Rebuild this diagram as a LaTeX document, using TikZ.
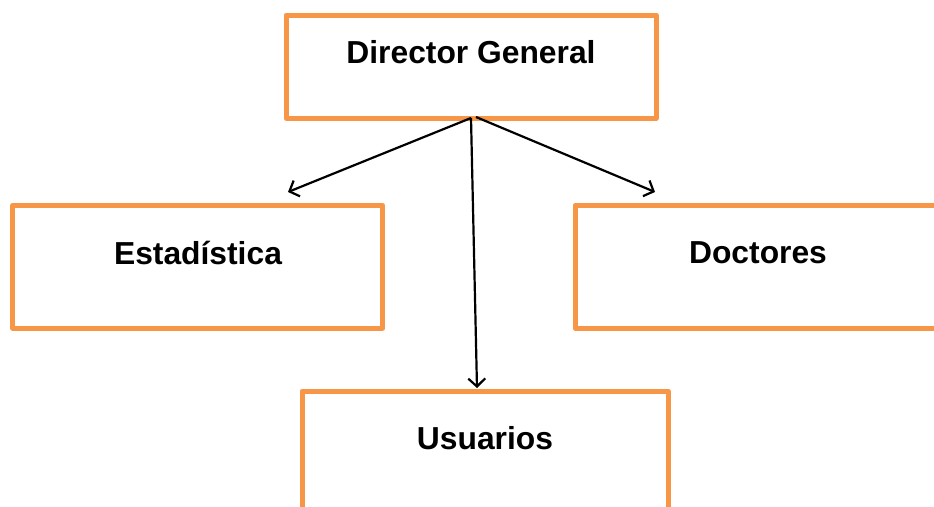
\documentclass[tikz,border=0pt]{standalone}
\usepackage{fontspec}
\setmainfont{Liberation Sans}
\usetikzlibrary{arrows.meta}
\definecolor{boxorange}{HTML}{F79646}
\begin{document}
\begin{tikzpicture}[x=1pt,y=-1pt,
  orgbox/.style={draw=boxorange,line width=5pt,line join=round,fill=white,
    minimum width=370pt,inner sep=0pt,outer sep=0pt},
  lbl/.style={font=\fontsize{31.8}{38}\selectfont\bfseries,inner sep=0pt},
  conn/.style={line width=2.2pt,-{Straight Barb[length=8pt,width=17pt,line width=2.2pt]}}]
\useasboundingbox (0,0) rectangle (934,506);
\clip (0,0) rectangle (934,506);
\node[orgbox,minimum height=103pt] (dir) at (471,66.5) {};
\node[orgbox,minimum height=122.5pt] (est) at (197.75,266.75) {};
\node[orgbox,minimum height=122.5pt] (doc) at (760,266.75) {};
\node[orgbox,minimum height=122pt,minimum width=366pt] (usu) at (485,452) {};
\node[lbl] (tdir) at (471,52) {Director General};
\node[lbl] (test) at (198,253) {Estadística};
\node[lbl] (tdoc) at (758,253) {Doctores};
\node[lbl] (tusu) at (485,438) {Usuarios};
\coordinate (sL) at (471,118);
\coordinate (sR) at (476,117);
\coordinate (eL) at (288,192);
\coordinate (eR) at (655,192);
\coordinate (eD) at (477,388);
\draw[conn] (sL) -- (eL);
\draw[conn] (sR) -- (eR);
\draw[conn] (sL) -- (eD);
\end{tikzpicture}
\end{document}
